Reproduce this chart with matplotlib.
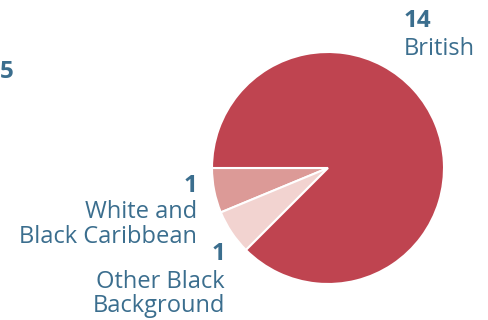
import matplotlib
matplotlib.use("Agg")
import matplotlib.pyplot as plt

categories = ["White and\nBlack Caribbean", "Other Black\nBackground", "British"]
values = [1, 1, 14]
colors = ["#DC9A97", "#F2D3D0", "#BF4450"]
text_color = "#3B6E8E"

W, H = 489, 320
fig = plt.figure(figsize=(W / 100, H / 100), dpi=100)
ax = fig.add_axes([0, 0, 1, 1])

cx, cy, r = 328, H - 168, 116
ax.pie(values, colors=colors, startangle=180, counterclock=True,
       center=(cx, cy), radius=r, frame=True,
       wedgeprops=dict(edgecolor="white", linewidth=1.5))
ax.set_xlim(0, W)
ax.set_ylim(0, H)
ax.set_aspect("equal")
ax.axis("off")

fam = "Open Sans"
fs = 17


def label(x, ys, value, name, ha):
    ax.text(x, H - ys[0], str(value), ha=ha, va="baseline", fontsize=fs + 0.5,
            fontweight="bold", color=text_color, family=fam)
    for yy, line in zip(ys[1:], name.split("\n")):
        ax.text(x, H - yy, line, ha=ha, va="baseline", fontsize=fs,
                color=text_color, family=fam)


label(404, [27, 55], values[2], categories[2], "left")
label(197, [192, 218, 243], values[0], categories[0], "right")
label(225, [260, 288, 312], values[1], categories[1], "right")
# partial label from neighbouring chart
ax.text(0, H - 78, "5", ha="left", va="baseline", fontsize=fs + 0.5,
        fontweight="bold", color=text_color, family=fam)

fig.savefig("out.png", dpi=100)
